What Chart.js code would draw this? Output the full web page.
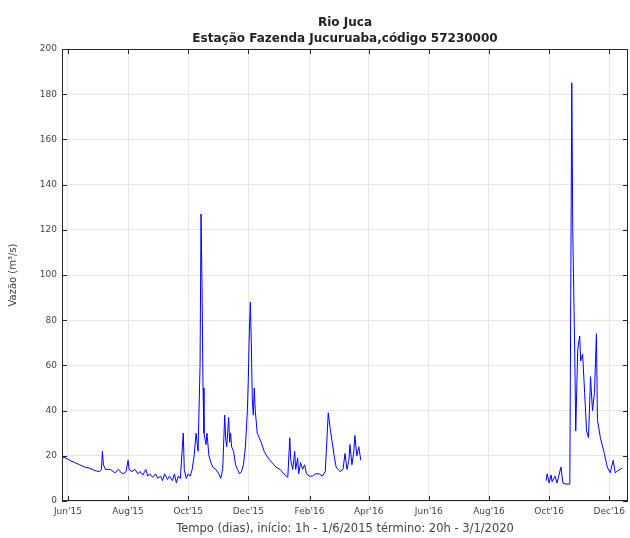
<!DOCTYPE html>
<html>
<head>
<meta charset="utf-8">
<script src="https://cdn.jsdelivr.net/npm/chart.js@4.4.0/dist/chart.umd.min.js"></script>
<style>
  body { margin: 0; background: #fff; }
</style>
</head>
<body>
<canvas id="vazaoChart" width="630" height="538"></canvas>
<script>
// dias contados a partir de 1/6/2015
let dias = [-6, -2, 2, 7, 12, 17, 22, 27, 32, 34, 35, 36, 38, 43, 46, 48, 51, 53, 56, 59,
    61, 62, 65, 68, 71, 73, 76, 79, 81, 83, 86, 89, 91, 94, 96, 98, 101, 103, 106, 108,
    110, 112, 114, 117, 118, 120, 122, 124, 126, 128, 130, 132, 134, 135, 136, 137, 138, 140, 141, 143,
    145, 147, 150, 153, 155, 157, 159, 160, 161, 162, 163, 164, 165, 166, 168, 170, 172, 174, 176, 178,
    180, 182, 183, 184, 185, 186, 187, 188, 189, 190, 192, 196, 199, 203, 207, 211, 215, 219, 223, 225,
    226, 228, 230, 231, 233, 234, 236, 238, 240, 242, 245, 248, 251, 255, 258, 261, 263, 264, 266, 268,
    270, 272, 276, 279, 281, 283, 285, 286, 288, 290, 291, 293, 295, 297,
    390,
    485, 486, 488, 490, 491, 494, 496, 500, 502, 505, 509, 511, 512, 514, 515, 517, 519, 520, 522, 524,
    526, 528, 530, 532, 534, 536, 537, 540, 544, 547, 550, 553, 555, 558, 562];
let vazao = [19.5, 19, 18, 17, 16, 15, 14.5, 13.5, 13, 14, 22, 16, 14, 14, 13, 12.5, 14, 13, 12, 13,
    18, 14, 13, 14, 12, 13, 11.5, 14, 11, 12, 10.5, 12, 10, 11, 9, 12, 9.5, 11, 9, 12,
    8, 11, 10, 30, 14, 10, 12, 11, 14, 20, 30, 22, 60, 127, 95, 50, 30, 25, 30, 20,
    17, 15, 14, 12, 10, 14, 38, 28, 24, 30, 37, 26, 30, 24, 22, 16, 14, 12, 13, 16,
    24, 40, 55, 75, 88, 70, 45, 38, 50, 40, 30, 26, 22, 19, 17, 15, 14, 12, 10.5, 28,
    18, 14, 22, 14, 19, 12, 17, 14, 16, 12, 11, 11, 12, 12, 11, 13, 30, 39, 32, 26,
    20, 15, 13, 14, 21, 14, 18, 25, 16, 22, 29, 20, 24, 18,
    null,
    9, 12, 8, 11.5, 8.5, 11, 8, 15, 8, 7.5, 7.5, 185, 120, 65, 31, 67, 73, 62, 65, 48,
    31, 28, 55, 40, 48, 74, 36, 28, 21, 15, 12.5, 18, 12.5, 13.5, 14.5];

let mes_dias = [0, 61, 122, 183, 245, 305, 366, 427, 488, 549];
let mes_labels = ["Jun'15", "Aug'15", "Oct'15", "Dec'15", "Feb'16", "Apr'16", "Jun'16", "Aug'16", "Oct'16", "Dec'16"];
let y_ticks = [0, 20, 40, 60, 80, 100, 120, 140, 160, 180, 200];
let titulo = ['Rio Juca', 'Estação Fazenda Jucuruaba,código 57230000'];

let pontos = dias.map((d, i) => ({ x: d, y: vazao[i] }));

// moldura, marcas internas dos eixos e titulo centrado nos eixos (estilo matlab)
const boxPlugin = {
    id: 'boxPlugin',
    afterDraw(chart) {
        let ctx = chart.ctx;
        let a = chart.chartArea;
        let xs = chart.scales.x;
        let ys = chart.scales.y;
        ctx.save();
        ctx.strokeStyle = '#262626';
        ctx.lineWidth = 1;
        ctx.strokeRect(a.left + 0.5, a.top + 0.5, a.right - a.left - 1, a.bottom - a.top - 1);
        ctx.beginPath();
        mes_dias.forEach(d => {
            let px = Math.round(xs.getPixelForValue(d)) + 0.5;
            ctx.moveTo(px, a.bottom); ctx.lineTo(px, a.bottom - 5);
            ctx.moveTo(px, a.top); ctx.lineTo(px, a.top + 5);
        });
        y_ticks.forEach(v => {
            let py = Math.round(ys.getPixelForValue(v)) + 0.5;
            ctx.moveTo(a.left, py); ctx.lineTo(a.left + 5, py);
            ctx.moveTo(a.right, py); ctx.lineTo(a.right - 5, py);
        });
        ctx.stroke();

        ctx.fillStyle = '#222';
        ctx.font = 'bold 12px "DejaVu Sans"';
        ctx.textAlign = 'center';
        ctx.textBaseline = 'middle';
        let cx = (a.left + a.right) / 2;
        ctx.fillText(titulo[0], cx, a.top - 26);
        ctx.fillText(titulo[1], cx, a.top - 10);
        ctx.restore();
    }
};

var ctx = document.getElementById('vazaoChart');
chart = new Chart(ctx, {
    type: 'scatter',
    data: {
        datasets: [
            {
                label: 'Vazão',
                data: pontos,
                showLine: true,
                spanGaps: false,
                borderColor: '#0000ff',
                borderWidth: 1,
                pointRadius: 0,
                tension: 0
            }
        ]
    },
    options: {
        responsive: false,
        animation: false,
        layout: { padding: { top: 49, right: 2, bottom: 0 } },
        scales: {
            x: {
                type: 'linear',
                min: -6,
                max: 568,
                afterBuildTicks: (scale) => { scale.ticks = mes_dias.map(v => ({ value: v })); },
                afterFit: (scale) => { scale.height = 37; },
                ticks: {
                    autoSkip: false,
                    maxRotation: 0,
                    padding: 5,
                    color: '#444',
                    font: { family: 'DejaVu Sans', size: 9 },
                    callback: (v) => mes_labels[mes_dias.indexOf(v)]
                },
                grid: { color: '#e6e6e6', drawTicks: false },
                border: { display: false },
                title: {
                    display: true,
                    text: 'Tempo (dias), início: 1h - 1/6/2015 término: 20h - 3/1/2020',
                    color: '#444',
                    font: { family: 'DejaVu Sans', size: 11.5 },
                    padding: { top: 0, bottom: 2 }
                }
            },
            y: {
                min: 0,
                max: 200,
                afterBuildTicks: (scale) => { scale.ticks = y_ticks.map(v => ({ value: v })); },
                afterFit: (scale) => { scale.width = 62; },
                ticks: {
                    padding: 5,
                    color: '#444',
                    font: { family: 'DejaVu Sans', size: 9 }
                },
                grid: { color: '#e6e6e6', drawTicks: false },
                border: { display: false },
                title: {
                    display: true,
                    text: 'Vazão (m³/s)',
                    color: '#444',
                    font: { family: 'DejaVu Sans', size: 10 },
                    padding: { top: 7, bottom: 6 }
                }
            }
        },
        plugins: {
            legend: { display: false },
            tooltip: { enabled: false },
            title: { display: false }
        }
    },
    plugins: [boxPlugin]
});
</script>
</body>
</html>
